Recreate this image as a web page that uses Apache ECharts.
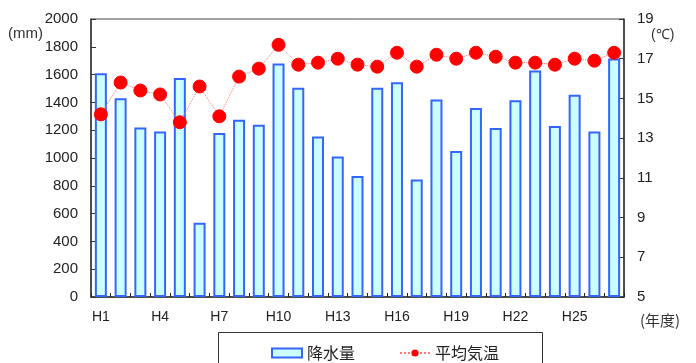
<!DOCTYPE html>
<html><head><meta charset="utf-8">
<script src="https://cdn.jsdelivr.net/npm/echarts@6/dist/echarts.min.js"></script>
<style>html,body{margin:0;padding:0;background:#fff}#c{width:696px;height:363px}</style>
</head><body><div id="c"></div>
<script>
const years = ['H1','H2','H3','H4','H5','H6','H7','H8','H9','H10','H11','H12','H13','H14','H15','H16','H17','H18','H19','H20','H21','H22','H23','H24','H25','H26','H27'];
const rainfall = [1610,1430,1220,1190,1575,535,1180,1275,1240,1680,1505,1155,1010,870,1505,1545,845,1420,1050,1360,1215,1415,1630,1230,1455,1190,1715];
const temperature = [14.2,15.8,15.4,15.2,13.8,15.6,14.1,16.1,16.5,17.7,16.7,16.8,17.0,16.7,16.6,17.3,16.6,17.2,17.0,17.3,17.1,16.8,16.8,16.7,17.0,16.9,17.3];
const rainTicks = [0,2000,200];
const tempTicks = [5,19,2];

const font = 'Liberation Sans, Arial, sans-serif';
const jfont = '"Noto Sans CJK JP", sans-serif';
const chart = echarts.init(document.getElementById('c'));
chart.setOption({
  animation: false,
  grid: {left: 91, right: 72, top: 19, bottom: 66, show: true, borderColor: '#444', borderWidth: 1},
  legend: {
    left: 266, top: 340, itemGap: 44, itemWidth: 30, itemHeight: 9,
    textStyle: {fontFamily: jfont, fontSize: 16, color: '#222'},
    data: [{name: '降水量', icon: 'rect'}, {name: '平均気温'}]
  },
  graphic: [
    {type: 'rect', shape: {x: 218.5, y: 332.5, width: 324, height: 40}, style: {fill: 'none', stroke: '#333', lineWidth: 1}},
    {type: 'text', left: 8, top: 26, style: {text: '(mm)', font: '15px ' + font, fill: '#333'}},
    {type: 'text', left: 651, top: 28, style: {text: '(℃)', font: '14px ' + font, fill: '#333'}},
    {type: 'text', left: 640, top: 313, style: {text: '(年度)', font: '15px ' + jfont, fill: '#333'}}
  ],
  xAxis: {
    type: 'category', data: years, boundaryGap: true,
    axisLine: {lineStyle: {color: '#333', width: 1.5}},
    axisTick: {show: true, inside: true, length: 4, alignWithLabel: false, interval: 0, lineStyle: {color: '#222', width: 1}},
    axisLabel: {interval: 2, margin: 13, fontFamily: font, fontSize: 14, color: '#222'}
  },
  yAxis: [
    {type: 'value', min: rainTicks[0], max: rainTicks[1], interval: rainTicks[2],
     axisLine: {show: true, lineStyle: {color: '#333', width: 1.5}},
     axisTick: {show: true, inside: true, length: 5, lineStyle: {color: '#333'}},
     splitLine: {show: false},
     axisLabel: {margin: 13, fontFamily: font, fontSize: 15, color: '#222', formatter: v => String(v)}},
    {type: 'value', min: tempTicks[0], max: tempTicks[1], interval: tempTicks[2], position: 'right',
     axisLine: {show: true, lineStyle: {color: '#333', width: 1.5}},
     axisTick: {show: true, inside: true, length: 5, lineStyle: {color: '#333'}},
     splitLine: {show: false},
     axisLabel: {margin: 13, fontFamily: font, fontSize: 15, color: '#222', formatter: v => String(v)}}
  ],
  series: [
    {name: '降水量', type: 'bar', data: rainfall, yAxisIndex: 0, barWidth: 12,
     itemStyle: {color: '#ccffff', borderColor: '#3366ff', borderWidth: 2}},
    {name: '平均気温', type: 'line', data: temperature, yAxisIndex: 1, z: 3,
     symbol: 'circle', symbolSize: 13,
     lineStyle: {color: '#ff7777', width: 1, type: 'dotted'},
     itemStyle: {color: '#ff0000', borderColor: '#ff0000'}}
  ]
});
</script></body></html>
